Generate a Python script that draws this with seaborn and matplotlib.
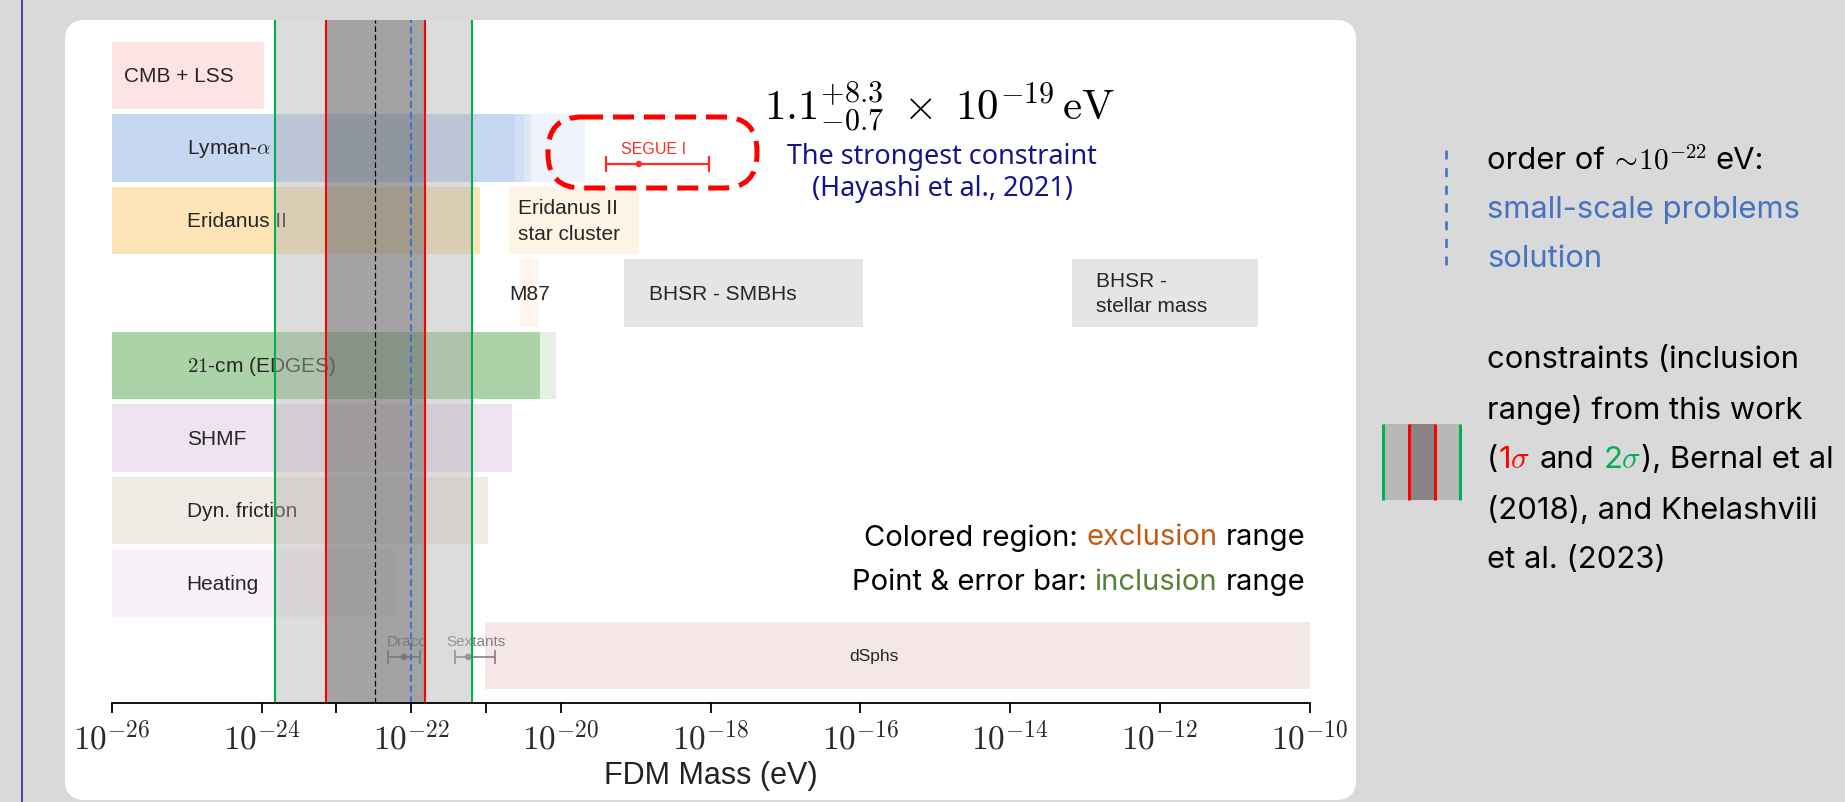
import matplotlib
matplotlib.use('Agg')
import matplotlib.pyplot as plt
import numpy as np
import pandas as pd
import seaborn as sns
from matplotlib.patches import FancyBboxPatch, Rectangle

# ---------------- data (log10 of FDM mass in eV) ----------------
exp_ticks = [-26, -24, -22, -20, -18, -16, -14, -12, -10]
minor_ticks = [-23, -21]

bar_names = ["CMB + LSS", "Lyman-$\\alpha$", "Eridanus II", "Eridanus II\nstar cluster", "M87",
             "BHSR - SMBHs", "BHSR -\nstellar mass", "$21$-cm (EDGES)", "SHMF", "Dyn. friction",
             "Heating", "dSphs"]
bar_row = [0, 1, 2, 2, 3, 3, 3, 4, 5, 6, 7, 8]
bar_lo = [-26, -26, -26, -20.70, -20.55, -19.16, -13.17, -26, -26, -26, -26, -21.02]
bar_hi = [-23.97, -20.62, -21.08, -18.96, -20.29, -15.97, -10.69, -20.28, -20.66, -20.97, -22.2, -10.0]
bar_colors = ["#fde3e3", "#c6d7f2", "#fde4b6", "#fdf4e6", "#fdf5ee", "#e5e5e5", "#e5e5e5",
              "#acd3a8", "#efe3f1", "#f1ebe6", "#f9f1f9", "#f5e7e8"]
label_x = [-25.84, -25.0, -25.0, -20.58, -20.69, -18.83, -12.85, -25.0, -25.0, -25.0, -25.0, -15.82]

tail_row = [1, 1, 1, 4]
tail_lo = [-20.62, -20.50, -20.40, -20.28]
tail_hi = [-20.50, -20.40, -19.68, -20.07]
tail_colors = ["#d2dff5", "#dde7f8", "#eef3fc", "#e3f0e2"]

incl_names = ["SEGUE I", "Draco", "Sextants"]
incl_row = [1.22, 8.02, 8.02]
incl_text_row = [1.0, 7.80, 7.80]
incl_text_x = [-18.77, -22.05, -21.13]
incl_center = [-18.96, -22.10, -21.24]
incl_lo = [-19.40, -22.31, -21.41]
incl_hi = [-18.03, -21.89, -20.88]

sigma2 = [-23.82, -21.19]
sigma1 = [-23.14, -21.82]
bernal = -22.48
fuzzy = -22.0

# ---------------- style ----------------
sns.set_theme(style="white")
plt.rcParams['font.family'] = ['Liberation Sans', 'DejaVu Sans']
plt.rcParams['mathtext.fontset'] = 'cm'

W, H = 1845, 803
fig = plt.figure(figsize=(W / 100, H / 100), dpi=100, facecolor='#d9d9d9')

# background layer (pixel coordinates)
bg = fig.add_axes([0, 0, 1, 1], zorder=0)
bg.set_xlim(0, W); bg.set_ylim(H, 0); bg.axis('off')
bg.add_patch(FancyBboxPatch((65, 21), 1291, 780, boxstyle="round,pad=0,rounding_size=20",
                            fc='white', ec='none'))
bg.plot([21.7, 21.7], [0, H], color='#1c1c8c', lw=1.1)

# main chart axes
x0, x1, yt, yb = 111.8, 1309.7, 21.2, 703.7
ax = fig.add_axes([x0 / W, 1 - yb / H, (x1 - x0) / W, (yb - yt) / H], zorder=1)
ax.patch.set_alpha(0)
ax.set_xscale('log')
ax.set_xlim(1e-26, 1e-10)
ax.set_ylim(8.651, -0.763)

lo = np.power(10.0, bar_lo); hi = np.power(10.0, bar_hi)
ax.barh(bar_row, hi - lo, left=lo, height=0.93, color=bar_colors, lw=0, zorder=1)
tlo = np.power(10.0, tail_lo); thi = np.power(10.0, tail_hi)
ax.barh(tail_row, thi - tlo, left=tlo, height=0.93, color=tail_colors, lw=0, zorder=1)

for name, r, lx in zip(bar_names, bar_row, label_x):
    ha = 'center' if name == 'dSphs' else 'left'
    fs = 12.5 if name == 'dSphs' else 15
    ax.text(10 ** lx, r, name, ha=ha, va='center', fontsize=fs, color='#262626',
            linespacing=1.45, zorder=2)

# inclusion points
df = pd.DataFrame({'name': incl_names, 'row': incl_row,
                   'm': np.power(10.0, incl_center),
                   'lo': np.power(10.0, incl_lo), 'hi': np.power(10.0, incl_hi)})
pcol = ['#ff2a2a', '#808080', '#808080']
for i, rw in df.iterrows():
    ax.errorbar(rw['m'], rw['row'], xerr=[[rw['m'] - rw['lo']], [rw['hi'] - rw['m']]],
                fmt='none', ecolor=pcol[i], elinewidth=1.6 if i == 0 else 1.2,
                capsize=6 if i == 0 else 5, capthick=1.6 if i == 0 else 1.2, zorder=2.5)
sns.scatterplot(data=df, x='m', y='row', hue='name', palette=dict(zip(incl_names, pcol)),
                s=22, edgecolor='none', legend=False, ax=ax, zorder=2.6)
for i, (nm, tr, tx) in enumerate(zip(incl_names, incl_text_row, incl_text_x)):
    ax.text(10 ** tx, tr, nm, ha='center', va='center', fontsize=11.5 if i == 0 else 11,
            color=pcol[i], zorder=2.6)

# inclusion bands of this work
ax.axvspan(10 ** sigma2[0], 10 ** sigma2[1], color='#b0b0b0', alpha=0.44, lw=0, zorder=3)
ax.axvspan(10 ** sigma1[0], 10 ** sigma1[1], color='#555555', alpha=0.42, lw=0, zorder=3.1)
for v in sigma2:
    ax.axvline(10 ** v, color='#00b050', lw=1.5, zorder=4)
for v in sigma1:
    ax.axvline(10 ** v, color='#ff0000', lw=1.5, zorder=4)
ax.axvline(10 ** bernal, color='black', lw=0.9, ls=(0, (4.5, 2.3)), zorder=4)
ax.axvline(10 ** fuzzy, color='#4472c4', lw=1.5, ls=(0, (3.3, 1.8)), zorder=4)

# axis
for s in ['left', 'top', 'right']:
    ax.spines[s].set_visible(False)
ax.spines['bottom'].set_color('black')
ax.spines['bottom'].set_linewidth(1.3)
ax.spines['bottom'].set_zorder(5)
ax.set_yticks([])
ax.set_ylabel('')
ax.set_xticks([10.0 ** e for e in exp_ticks])
ax.set_xticklabels([f'$10^{{{e}}}$' for e in exp_ticks])
ax.set_xticks([10.0 ** e for e in minor_ticks], minor=True)
ax.set_xticklabels(['' for _ in minor_ticks], minor=True)
ax.tick_params(axis='x', which='both', direction='out', length=7, width=1.3, color='black',
               bottom=True, pad=6, labelsize=24, labelcolor='#2a2a2a')
ax.set_xlabel('FDM Mass (eV)', fontsize=22, color='#222222', labelpad=3)
ax.grid(False)

# overlay layer (pixel coordinates)
ov = fig.add_axes([0, 0, 1, 1], zorder=5)
ov.set_xlim(0, W); ov.set_ylim(H, 0); ov.axis('off'); ov.patch.set_alpha(0)

ov.add_patch(FancyBboxPatch((548, 118), 209, 71, boxstyle="round,pad=0,rounding_size=34",
                            fc='none', ec='#ff0000', lw=3.6, ls=(0, (4.2, 2.0))))
ov.text(940, 107, r'$1.1^{+8.3}_{-0.7}\;\times\;10^{-19}\,\mathrm{eV}$', ha='center', va='center',
        fontsize=31, color='black')
ov.text(942, 157, 'The strongest constraint', ha='center', va='center', fontsize=19.4,
        color='#14148c', family=['Noto Sans', 'DejaVu Sans'])
ov.text(942, 189, '(Hayashi et al., 2021)', ha='center', va='center', fontsize=19.4,
        color='#14148c', family=['Noto Sans', 'DejaVu Sans'])

renderer = fig.canvas.get_renderer()


def rich(x, y, pieces, ha='left', size=18, family='Inter'):
    fam = [family, 'DejaVu Sans']
    probe1 = ov.text(0, 0, 'x x', fontsize=size, family=fam)
    probe2 = ov.text(0, 0, 'xx', fontsize=size, family=fam)
    sp = probe1.get_window_extent(renderer).width - probe2.get_window_extent(renderer).width
    probe1.remove(); probe2.remove()
    items = []
    for piece in pieces:
        s, c = piece[0], piece[1]
        fs = piece[2] if len(piece) > 2 else size
        lead = len(s) - len(s.lstrip(' '))
        trail = len(s) - len(s.rstrip(' '))
        core = s.strip(' ')
        t = ov.text(0, y, core, fontsize=fs, family=fam, color=c, ha='left', va='center')
        w = t.get_window_extent(renderer).width
        items.append((t, lead * sp, w, trail * sp))
    total = sum(a + b + d for _, a, b, d in items)
    cur = x if ha == 'left' else x - total
    for t, a, w, d in items:
        cur += a
        t.set_x(cur)
        cur += w + d


K = 'black'
rich(1305, 538, [('Colored region: ', K), ('exclusion', '#c55a11'), (' range', K)], ha='right', size=21)
rich(1305, 583, [('Point & error bar: ', K), ('inclusion', '#548235'), (' range', K)], ha='right', size=21)

BL = '#4472c4'
RS = 22.3
rich(1487, 161, [('order of ', K), ('$\\!\\sim\\!10^{-22}$', K, RS * 0.95), (' eV:', K)], size=RS)
rich(1487, 210, [('small-scale problems', BL)], size=RS)
rich(1487, 259, [('solution', BL)], size=RS)
rich(1487, 360, [('constraints (inclusion', K)], size=RS)
rich(1487, 410, [('range) from this work', K)], size=RS)
rich(1487, 460, [('(', K), ('1$\\sigma$', '#ff0000'), (' and ', K), ('2$\\sigma$', '#00b050'),
                 ('), Bernal et al', K)], size=RS)
rich(1487, 510, [('(2018), and Khelashvili', K)], size=RS)
rich(1487, 560, [('et al. (2023)', K)], size=RS)

# legend-like glyphs on the right
ov.plot([1445.5, 1445.5], [151, 273], color=BL, lw=1.9, ls=(0, (3.4, 3.3)))
ov.add_patch(Rectangle((1383, 425), 77, 76, fc='#b9b7b7', ec='none'))
ov.add_patch(Rectangle((1409, 425), 26, 76, fc='#898585', ec='none'))
for xv, cc in [(1383, '#00b050'), (1409, '#ff0000'), (1435, '#ff0000'), (1460, '#00b050')]:
    ov.plot([xv, xv], [425, 501], color=cc, lw=2.2, solid_capstyle='butt')

fig.savefig('out.png', dpi=100, facecolor=fig.get_facecolor())
